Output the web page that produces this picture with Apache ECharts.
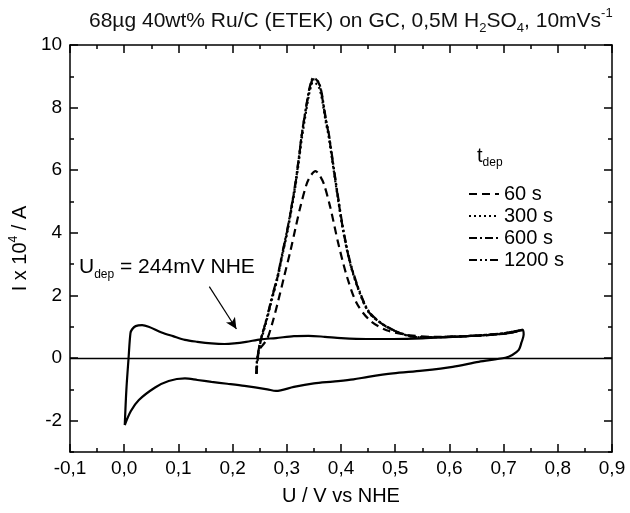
<!DOCTYPE html>
<html><head><meta charset="utf-8">
<script src="https://cdn.jsdelivr.net/npm/echarts@6/dist/echarts.min.js"></script>
<style>html,body{margin:0;padding:0;background:#fff}#c{width:630px;height:513px}</style>
</head><body><div id="c"></div>
<script>
// ---- data ----
const xTicks = [-0.1,0,0.1,0.2,0.3,0.4,0.5,0.6,0.7,0.8,0.9];
const yTicksMajor = [-2,0,2,4,6,8,10];
const yTicksMinor = [-3,-1,1,3,5,7,9];
const seriesNames = ['60 s','300 s','600 s','1200 s'];

// base CV (solid loop)
const cvU = [0.001,0.004,0.008,0.0115,0.0146,0.021,0.033,0.045,0.069,0.09,0.112,0.135,0.161,0.185,0.203,0.225,0.252,0.28,0.313,0.34,0.37,0.40,0.447,0.496,0.55,0.606,0.667,0.715,0.735,0.737,0.733,0.728,0.716,0.703,0.654,0.606,0.55,0.496,0.45,0.423,0.385,0.35,0.313,0.28,0.264,0.222,0.19,0.161,0.135,0.112,0.082,0.057,0.027,0.012,0.001];
const cvI = [-2.14,-1.0,0.0,0.8,0.92,1.02,1.05,1.0,0.82,0.7,0.58,0.52,0.47,0.45,0.47,0.52,0.6,0.64,0.70,0.71,0.68,0.64,0.61,0.61,0.63,0.68,0.73,0.81,0.9,0.75,0.5,0.26,0.1,0.01,-0.12,-0.28,-0.4,-0.49,-0.6,-0.68,-0.75,-0.81,-0.92,-1.05,-1.0,-0.89,-0.82,-0.76,-0.7,-0.65,-0.73,-0.94,-1.34,-1.7,-2.14];

// stripping curves
const u60 = [0.244,0.246,0.249,0.256,0.264,0.273,0.283,0.295,0.307,0.316,0.325,0.337,0.345,0.353,0.36,0.368,0.38,0.395,0.411,0.429,0.453,0.484,0.527,0.57,0.62,0.67,0.71,0.735];
const i60 = [-0.5,-0.1,0.26,0.42,0.62,1.1,1.75,2.6,3.45,4.15,4.83,5.58,5.85,5.97,5.85,5.58,4.83,3.66,2.6,1.75,1.21,0.89,0.73,0.68,0.69,0.73,0.8,0.9];
const u300 = [0.244,0.245,0.248,0.252,0.258,0.264,0.273,0.283,0.292,0.301,0.309,0.316,0.322,0.328,0.335,0.341,0.345,0.348,0.353,0.359,0.364,0.368,0.372,0.377,0.386,0.395,0.404,0.417,0.435,0.453,0.484,0.52,0.551,0.6,0.65,0.7,0.735];
const i300 = [-0.5,-0.1,0.22,0.55,0.9,1.28,1.9,2.55,3.3,4.02,4.78,5.5,6.25,7.05,7.82,8.42,8.7,8.8,8.78,8.66,8.35,7.95,7.52,7.1,6.05,5.0,4.05,3.0,2.05,1.42,1.0,0.73,0.66,0.68,0.72,0.79,0.9];
const u600 = [0.244,0.245,0.248,0.252,0.258,0.264,0.273,0.283,0.292,0.301,0.309,0.316,0.322,0.328,0.335,0.341,0.345,0.348,0.353,0.359,0.364,0.368,0.372,0.377,0.386,0.395,0.404,0.417,0.435,0.453,0.484,0.52,0.551,0.6,0.65,0.7,0.735];
const i600 = [-0.5,-0.1,0.25,0.58,0.95,1.32,1.95,2.6,3.35,4.09,4.85,5.58,6.35,7.17,7.95,8.56,8.82,8.94,8.92,8.78,8.45,8.03,7.6,7.17,6.11,5.05,4.09,3.03,2.07,1.43,1.0,0.73,0.66,0.68,0.72,0.79,0.9];
const u1200 = [0.244,0.245,0.248,0.252,0.258,0.264,0.273,0.283,0.292,0.301,0.309,0.316,0.322,0.328,0.335,0.341,0.345,0.348,0.353,0.359,0.364,0.368,0.372,0.377,0.386,0.395,0.404,0.417,0.435,0.453,0.484,0.52,0.551,0.6,0.65,0.7,0.735];
const i1200 = [-0.5,-0.1,0.26,0.6,0.97,1.35,1.98,2.63,3.38,4.12,4.88,5.62,6.38,7.2,7.95,8.52,8.8,8.9,8.9,8.8,8.5,8.08,7.65,7.22,6.15,5.1,4.12,3.06,2.1,1.45,1.01,0.74,0.66,0.68,0.72,0.79,0.9];

// annotation arrow (data coords)
const arrowFrom = [0.157, 2.28];
const arrowTo = [0.207, 0.93];

// ---- chart ----
const FONT = "'Liberation Sans', Arial, sans-serif";
const zip = (a,b) => a.map((v,i)=>[v,b[i]]);
const fmtX = v => (Math.round(v*10)/10).toFixed(1).replace('.',',');

const chart = echarts.init(document.getElementById('c'), null, {renderer:'canvas'});
const grid = {left:64, right:18, top:45, bottom:61, containLabel:false};
const axLine = {show:true, onZero:false, lineStyle:{color:'#000', width:1.5}};
const xBase = {type:'value', min:-0.1, max:0.9, interval:0.1, gridIndex:0,
  axisLine:axLine, splitLine:{show:false},
  axisTick:{show:true, inside:true, length:8, lineStyle:{color:'#000', width:1.5}},
  minorTick:{show:true, splitNumber:2, length:4, lineStyle:{color:'#000', width:1.5}}};
const yMaj = {type:'value', min:-3, max:10, interval:1, gridIndex:0,
  axisLine:axLine, splitLine:{show:false},
  axisTick:{show:true, inside:true, length:8, customValues:yTicksMajor, lineStyle:{color:'#000', width:1.5}}};
const yMin = {type:'value', min:-3, max:10, interval:1, gridIndex:0,
  axisLine:{show:false, onZero:false}, splitLine:{show:false}, axisLabel:{show:false},
  axisTick:{show:true, inside:true, length:4, customValues:yTicksMinor, lineStyle:{color:'#000', width:1.5}}};

const lineSeries = (name, u, i, type) => ({
  name, type:'line', data:zip(u,i), xAxisIndex:0, yAxisIndex:0,
  showSymbol:false, symbol:'none', smooth:0.3, z:3,
  lineStyle:{color:'#000', width:2.2, type}
});

chart.setOption({
  animation:false,
  backgroundColor:'#fff',
  textStyle:{fontFamily:FONT, color:'#000'},
  grid,
  title:{
    left:84, top:2,
    text:'{a|68µg 40wt% Ru/C (ETEK) on GC, 0,5M H}{s|2}{a|SO}{s|4}{a|, 10mVs}{p|-1}',
    textStyle:{rich:{
      a:{fontFamily:FONT, fontSize:21, fontWeight:'normal', color:'#111', lineHeight:28},
      s:{fontFamily:FONT, fontSize:13, fontWeight:'normal', color:'#111', lineHeight:13, verticalAlign:'bottom'},
      p:{fontFamily:FONT, fontSize:13, fontWeight:'normal', color:'#111', lineHeight:13, verticalAlign:'top'}
    }}
  },
  legend:{
    data:seriesNames, orient:'vertical', left:468, top:184,
    itemWidth:30, itemHeight:14, itemGap:2, padding:0,
    itemStyle:{opacity:0, color:'rgba(0,0,0,0)', borderWidth:0},
    textStyle:{fontFamily:FONT, fontSize:20, color:'#000'}
  },
  xAxis:[
    Object.assign({}, xBase, {position:'bottom',
      axisLabel:{show:true, formatter:fmtX, fontFamily:FONT, fontSize:19, color:'#000', margin:7},
      name:'U / V vs NHE', nameLocation:'middle', nameGap:34,
      nameTextStyle:{fontFamily:FONT, fontSize:20, color:'#000'}}),
    Object.assign({}, xBase, {position:'top', axisLabel:{show:false}})
  ],
  yAxis:[
    Object.assign({}, yMaj, {position:'left',
      axisLabel:{show:true, customValues:yTicksMajor, fontFamily:FONT, fontSize:19, color:'#000', margin:8},
      name:'{a|I x 10}{p|4}{a| / A}', nameLocation:'middle', nameGap:33, nameRotate:90,
      nameTextStyle:{rich:{
        a:{fontFamily:FONT, fontSize:20, color:'#000', lineHeight:24},
        p:{fontFamily:FONT, fontSize:12, color:'#000', lineHeight:12, verticalAlign:'top'}
      }}}),
    Object.assign({}, yMaj, {position:'right', axisLabel:{show:false}}),
    Object.assign({}, yMin, {position:'left'}),
    Object.assign({}, yMin, {position:'right'})
  ],
  graphic:[
    {type:'text', left:79, top:257, style:{
      text:'{a|U}{s|dep}{a| = 244mV NHE}',
      rich:{
        a:{fontFamily:FONT, fontSize:21, fill:'#000', lineHeight:26},
        s:{fontFamily:FONT, fontSize:12, fill:'#000', lineHeight:12, verticalAlign:'bottom'}
      }}},
    {type:'text', left:477, top:146, style:{
      text:'{a|t}{s|dep}',
      rich:{
        a:{fontFamily:FONT, fontSize:20, fill:'#000', lineHeight:26},
        s:{fontFamily:FONT, fontSize:12, fill:'#000', lineHeight:12, verticalAlign:'bottom'}
      }}}
  ],
  series:[
    Object.assign(lineSeries('CV', cvU, cvI, 'solid'), {
      markLine:{silent:true, symbol:'none', label:{show:false},
        lineStyle:{color:'#000', width:1.3, type:'solid'},
        data:[{yAxis:0}]}
    }),
    lineSeries('60 s', u60, i60, [8,5]),
    lineSeries('300 s', u300, i300, [2,3]),
    lineSeries('600 s', u600, i600, [8,3,2,3]),
    Object.assign(lineSeries('1200 s', u1200, i1200, [8,3,2,3,2,3]), {
      markLine:{silent:true, symbol:['none','arrow'], symbolSize:[8,11], label:{show:false},
        lineStyle:{color:'#000', width:1.2, type:'solid'},
        data:[[{coord:arrowFrom},{coord:arrowTo}]]}
    })
  ]
});
</script>
</body></html>
